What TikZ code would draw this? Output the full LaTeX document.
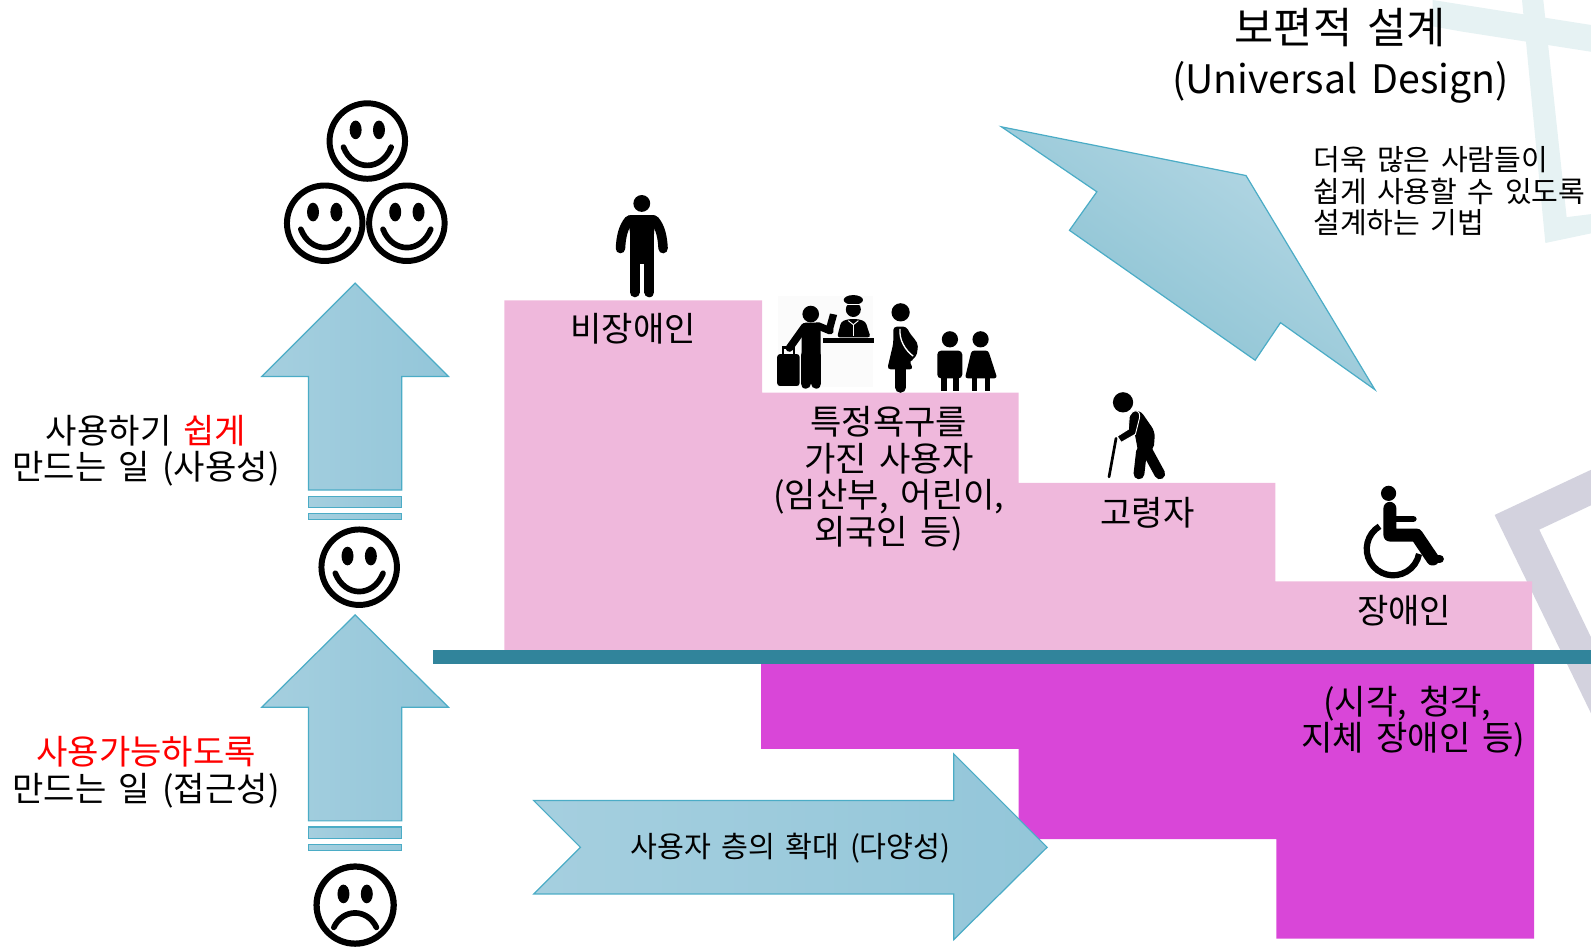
\documentclass[tikz,border=0pt]{standalone}
\usepackage{fontspec}
\setmainfont[WordSpace=1.6]{Noto Sans CJK KR}
\definecolor{pinkstep}{HTML}{EFB8DC}
\definecolor{magstep}{HTML}{D946D8}
\definecolor{tealbar}{HTML}{31849B}
\definecolor{arrowline}{HTML}{4BACC6}
\definecolor{arrowL}{HTML}{A5CFDF}
\definecolor{arrowR}{HTML}{93C6D9}
\definecolor{paleteal}{HTML}{E6F2F3}
\definecolor{lav}{HTML}{D3D2DE}
\tikzset{
 uparrow/.style={draw=arrowline,line width=.9pt,left color=arrowL,right color=arrowR,line join=miter},
 lim/.style={black,line cap=round,line join=round},
 lab/.style={inner sep=0pt,align=center,text=black,font=\fontsize{25.2}{27}\selectfont},
 labsm/.style={inner sep=0pt,align=center,text=black,font=\fontsize{21.6}{23.3}\selectfont},
 smile/.pic={
  \draw[line width=4.4pt,fill=white] (0,0) circle[radius=37.2];
  \fill (-11.5,-11) ellipse[x radius=5.9,y radius=9.2];
  \fill (11.5,-11) ellipse[x radius=5.9,y radius=9.2];
  \draw[line width=4.2pt,line cap=round] (-23.5,6) .. controls (-14,30) and (14,30) .. (23.5,6);
 },
 frown/.pic={
  \draw[line width=4.6pt,fill=white] (0,0) circle[radius=38];
  \fill (-11.5,-11) ellipse[x radius=5.9,y radius=9.2];
  \fill (11.5,-11) ellipse[x radius=5.9,y radius=9.2];
  \draw[line width=4.2pt,line cap=round] (-21,22) .. controls (-12,3) and (12,3) .. (21,22);
 },
}
\begin{document}
\begin{tikzpicture}[x=.75pt,y=-.75pt]
\useasboundingbox (0,0) rectangle (1568,935.25);
\begin{scope}
\clip (0,0) rectangle (1568,935.25);
% background frames
\fill[paleteal] (1412,0) -- (1568,24.6) -- (1568,51) -- (1440,31) -- (1412,26) -- cycle;
\fill[paleteal] (1500,0) -- (1521,0) -- (1544,214) -- (1568,211) -- (1568,230) -- (1523,239.5) -- cycle;
\fill[lav] (1473,507.5) -- (1568,463) -- (1568,498) -- (1517,522) -- (1568,628) -- (1568,703) -- cycle;
% steps
\fill[pinkstep] (497,296) -- (751,296) -- (751,387) -- (1004,387) -- (1004,476) -- (1257,476) -- (1257,573) -- (1510,573) -- (1510,641) -- (497,641) -- cycle;
\fill[magstep] (750,654) -- (1512,654) -- (1512,925) -- (1258,925) -- (1258,827) -- (1004,827) -- (1004,738) -- (750,738) -- cycle;
\fill[tealbar] (427,641) rectangle (1568,654);
\end{scope}
% arrows
\draw[uparrow] (350,279) -- (442,371) -- (396,371) -- (396,483) -- (304,483) -- (304,371) -- (258,371) -- cycle;
\draw[uparrow] (304,489) rectangle (396,500);
\draw[uparrow] (304,506) rectangle (396,512);
\draw[uparrow] (350,606) -- (442,697) -- (396,697) -- (396,809) -- (304,809) -- (304,697) -- (258,697) -- cycle;
\draw[uparrow] (304,815) rectangle (396,826);
\draw[uparrow] (304,832) rectangle (396,838);
\draw[uparrow] (526,789) -- (940,789) -- (940,743) -- (1032,835) -- (940,926) -- (940,881) -- (526,881) -- (572,835) -- cycle;
\draw[draw=arrowline,line width=.9pt,shading=axis,top color=arrowL!80!white,bottom color=arrowR!90!teal,shading angle=-35] (987,125) -- (1228,173) -- (1355,384) -- (1262,318) -- (1237,355) -- (1054,227) -- (1081,189) -- cycle;
% faces
\pic at (362,139) {smile};
\pic at (320,220) {smile};
\pic at (401,220) {smile};
\pic at (354,559) {smile};
\pic at (350,892) {frown};
% person
\fill (632.5,200.5) circle[radius=8.3];
\draw[lim,line width=7pt] (620,217) .. controls (614,224) and (612,234) .. (611.5,245);
\draw[lim,line width=7pt] (645,217) .. controls (651,224) and (653,234) .. (653.5,245);
\fill[rounded corners=4pt] (616,212) -- (649,212) -- (644.5,226) -- (644.5,260) -- (621,260) -- (621,226) -- cycle;
\draw[lim,line width=7.5pt] (625.5,255) -- (625.5,288);
\draw[lim,line width=7.5pt] (640,255) -- (640,288);
% traveller and officer
\fill[black!1.5] (767,292) rectangle (860,381);
\fill (799,309.5) circle[radius=8.2];
\fill[rounded corners=3pt] (790,318) rectangle (808.7,352);
\draw[lim,line width=7.6pt] (794,350) -- (794,378);
\draw[lim,line width=7.6pt] (804.5,350) -- (804.5,378);
\draw[lim,line width=5.6pt] (793,322) -- (778,343);
\draw[lim,line width=5.4pt] (806,321) -- (818,326);
\fill (818,309) -- (825,310.4) -- (821,325) -- (814,323.5) -- cycle;
\fill[rounded corners=2pt] (766,349) rectangle (788,380.4);
\draw[line width=1.6pt] (772,349) -- (772,342.5) -- (782.5,342.5) -- (782.5,349);
\fill (841,305) circle[radius=7.4];
\fill (841,295.6) ellipse[x radius=9.5,y radius=4.8];
\fill[white] (832,299.6) rectangle (850,300.4);
\fill[rounded corners=2pt] (825,332.4) -- (829,317) -- (836,314.5) -- (846,314.5) -- (853,317) -- (858,332.4) -- cycle;
\draw[white,line width=.7pt] (836,316) -- (841,320) -- (846,316);
\draw[white,line width=.7pt] (841,320) -- (841,331);
\fill (810.7,333.4) rectangle (861,337.7);
% pregnant woman
\fill (887.6,307.8) circle[radius=9];
\fill[rounded corners=2.5pt] (880.4,322) -- (893.5,321.9) .. controls (898,332) and (905,336) .. (904.3,345) .. controls (903,352) and (898,355) .. (896,355) -- (900,364) -- (874.4,364) -- (880.4,338.3) -- cycle;
\draw[white,line width=1pt] (887,324) .. controls (886,335) and (892,345) .. (900,351);
\draw[lim,line width=7.6pt] (887.6,362) -- (887.6,382);
% boy
\fill (936.2,334.4) circle[radius=8];
\fill[rounded corners=3pt] (923.7,345.5) rectangle (948.4,373);
\fill (927,370) rectangle (933,385);
\fill (939.5,370) rectangle (945.4,385);
% girl
\fill (966.4,334.4) circle[radius=8];
\fill[rounded corners=2pt] (957.5,345.5) -- (974,345.5) -- (982.8,372.8) -- (951,372.8) -- cycle;
\fill (957.5,370) rectangle (962.5,385);
\fill (970.7,370) rectangle (975.6,385);
% elderly
\fill (1106.8,396.5) circle[radius=10];
\fill[rounded corners=4pt] (1114,406) -- (1123.5,404) -- (1138.3,425.4) -- (1137,444) -- (1122,447) -- (1118.6,428.7) -- cycle;
\draw[white,line width=.7pt,fill=black] (1116,406) .. controls (1119,404) and (1124,404) .. (1123,412) -- (1119,428) -- (1105,436) -- (1101,430) -- (1112,423) -- (1113,410) -- cycle;
\draw[lim,line width=2pt] (1099.9,432) -- (1093,470);
\draw[lim,line width=8pt] (1125,445) -- (1122.5,467);
\draw[lim,line width=8pt] (1131,445) -- (1143,467);
% wheelchair
\fill (1368.5,486.2) circle[radius=7.5];
\draw[lim,line width=9.6pt] (1369.8,501) -- (1369.8,527.3) -- (1396,527.3) -- (1412,551);
\draw[lim,line width=6pt] (1412,551) -- (1419,551);
\draw[lim,line width=5pt] (1374,511.5) -- (1392.8,511.5);
\draw[line width=4.6pt] (1359.6,518.7) arc[start angle=121,end angle=349,radius=19.5pt];
% labels
\node[inner sep=0pt,align=center,text=black,font=\fontsize{31.5}{36.5}\selectfont] (title) at (1321,55) {보편적 설계\\{\fontsize{29}{36.5}\selectfont (Universal Design)}};
\node[inner sep=0pt,align=left,anchor=west,text=black,font=\fontsize{21.5}{23.4}\selectfont] (desc) at (1294,188.5) {더욱 많은 사람들이\\쉽게 사용할 수 있도록\\설계하는 기법};
\node[lab] (n1) at (624,324) {비장애인};
\node[lab] (n2) at (876,472) {특정욕구를\\가진 사용자\\(임산부, 어린이,\\외국인 등)};
\node[lab] (n3) at (1131,505) {고령자};
\node[lab] (n4) at (1384,602) {장애인};
\node[lab] (n5) at (1393,711) {(시각, 청각,\hspace*{9pt}\\지체 장애인 등)};
\node[lab] (u1) at (144,444) {사용하기 \textcolor{red}{쉽게}\\만드는 일 (사용성)};
\node[lab] (u2) at (144,761) {\textcolor{red}{사용가능하도록}\\만드는 일 (접근성)};
\node[labsm] (u3) at (779,836) {사용자 층의 확대 (다양성)};
\end{tikzpicture}
\end{document}
